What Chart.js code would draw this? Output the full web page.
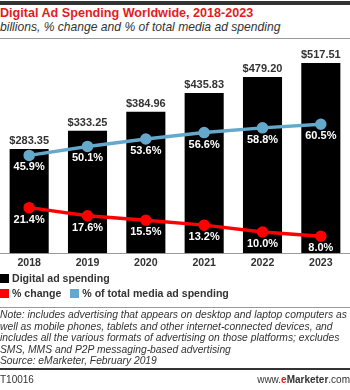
<!DOCTYPE html>
<html><head><meta charset="utf-8">
<script src="https://cdn.jsdelivr.net/npm/chart.js@4"></script>
<style>
body{margin:0;width:350px;height:390px;overflow:hidden;background:#fff;font-family:"Liberation Sans",Arial,sans-serif;position:relative}
#topbar{position:absolute;left:0;top:1px;width:350px;height:4px;background:#333}
#title{position:absolute;left:0;top:6px;font-size:12.6px;font-weight:bold;color:#e31b23;white-space:nowrap}
#sub{position:absolute;left:0;top:20px;font-size:12.1px;font-style:italic;color:#333;white-space:nowrap}
#hr1{position:absolute;left:0;top:38px;width:350px;height:1px;background:#999}
#wrap{position:absolute;left:0;top:32px;width:350px;height:240px}
#legend{position:absolute;left:0;top:271px;font-size:10.6px;font-weight:bold;color:#333;line-height:15px}
#legend span.sw{display:inline-block;width:9px;height:9px;margin-right:3px;vertical-align:-1px}
#hr2{position:absolute;left:0;top:307px;width:350px;height:1px;background:#999}
#note{position:absolute;left:0;top:309px;font-size:10.3px;font-style:italic;color:#333;line-height:11.5px;white-space:nowrap}
#hr3{position:absolute;left:0;top:368px;width:350px;height:2px;background:#333}
#code{position:absolute;left:0;top:374px;font-size:10px;color:#333}
#site{position:absolute;right:0px;top:374px;font-size:10px;color:#333}
</style></head><body>
<div id="topbar"></div>
<div id="title">Digital Ad Spending Worldwide, 2018-2023</div>
<div id="sub">billions, % change and % of total media ad spending</div>
<div id="hr1"></div>
<div id="wrap"><canvas id="c" width="350" height="240"></canvas></div>
<div id="legend">
<div><span class="sw" style="background:#000"></span>Digital ad spending</div>
<div><span class="sw" style="background:#ff0000"></span>% change &nbsp;&nbsp;<span class="sw" style="background:#64a9cc"></span>% of total media ad spending</div>
</div>
<div id="hr2"></div>
<div id="note">Note: includes advertising that appears on desktop and laptop computers as<br>well as mobile phones, tablets and other internet-connected devices, and<br>includes all the various formats of advertising on those platforms; excludes<br>SMS, MMS and P2P messaging-based advertising<br>Source: eMarketer, February 2019</div>
<div id="hr3"></div>
<div id="code">T10016</div>
<div id="site">www.<b style="color:#e31b23">e</b><b>Marketer</b>.com</div>
<script>
const years = ["2018","2019","2020","2021","2022","2023"];
const spending = [283.35, 333.25, 384.96, 435.83, 479.20, 517.51];
const pctChange = [21.4, 17.6, 15.5, 13.2, 10.0, 8.0];
const pctTotal = [45.9, 50.1, 53.6, 56.6, 58.8, 60.5];

const labelPlugin = {
  id:'labels',
  afterDatasetsDraw(chart){
    const ctx = chart.ctx;
    ctx.save();
    ctx.textAlign='center';
    ctx.textBaseline='middle';
    chart.data.datasets.forEach((ds,i)=>{
      const meta = chart.getDatasetMeta(i);
      meta.data.forEach((el,j)=>{
        if(ds.type==='bar'){
          ctx.font='bold 11px "Liberation Sans", Arial, sans-serif';
          ctx.fillStyle='#333';
          ctx.fillText('$'+ds.data[j].toFixed(2), el.x, el.y-8);
        } else {
          ctx.font='bold 11px "Liberation Sans", Arial, sans-serif';
          ctx.fillStyle='#fff';
          ctx.fillText(ds.data[j].toFixed(1)+'%', el.x, el.y+12);
        }
      });
    });
    ctx.restore();
  }
};

new Chart(document.getElementById('c'),{
  data:{
    labels:years,
    datasets:[
      {type:'line',label:'% of total media ad spending',data:pctTotal,yAxisID:'yp',borderColor:'#64a9cc',backgroundColor:'#64a9cc',borderWidth:3.5,pointRadius:4,pointHoverRadius:4,order:1},
      {type:'line',label:'% change',data:pctChange,yAxisID:'yp',borderColor:'#ff0000',backgroundColor:'#ff0000',borderWidth:3.5,pointRadius:4,pointHoverRadius:4,order:2},
      {type:'bar',label:'Digital ad spending',data:spending,yAxisID:'y',backgroundColor:'#000',barPercentage:0.67,categoryPercentage:1,order:3}
    ]
  },
  options:{
    responsive:false,animation:false,
    layout:{autoPadding:false,padding:{left:0,right:0,top:8,bottom:0}},
    plugins:{legend:{display:false},tooltip:{enabled:false}},
    scales:{
      x:{grid:{display:false,drawTicks:false},border:{color:'#999'},ticks:{padding:3,color:'#333',font:{family:'"Liberation Sans", Arial, sans-serif',size:10.6,weight:'bold'}}},
      y:{display:false,min:0,max:580},
      yp:{display:false,min:0,max:100}
    }
  },
  plugins:[labelPlugin]
});
</script>
</body></html>
